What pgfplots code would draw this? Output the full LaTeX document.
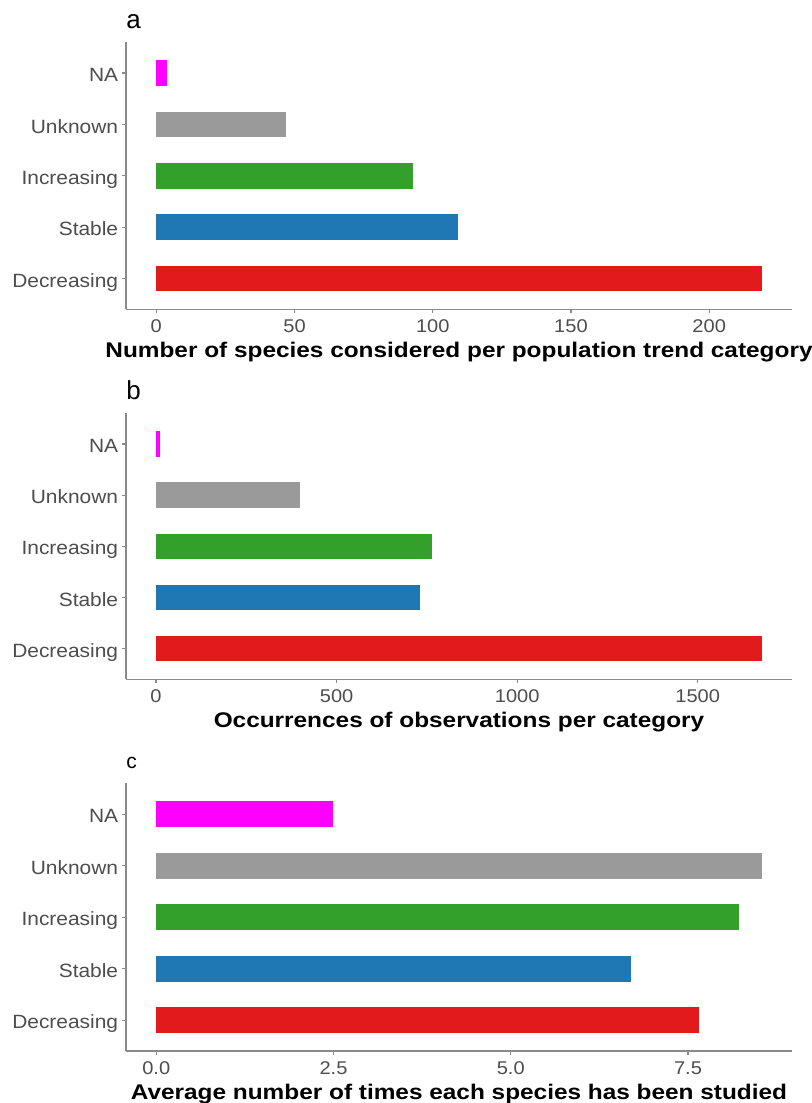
\documentclass[border=0pt]{standalone}
\usepackage{pgfplots}
\pgfplotsset{compat=1.18}
\usepackage{fontspec}
\setmainfont{Liberation Sans}
\newfontfamily\tickfont[FakeStretch=1.09]{Liberation Sans}
\newfontfamily\labfont[FakeStretch=1.15]{Liberation Sans}
\definecolor{cRed}{HTML}{E31A1C}
\definecolor{cBlue}{HTML}{1F78B4}
\definecolor{cGreen}{HTML}{33A02C}
\definecolor{cGrey}{HTML}{9A9A9A}
\definecolor{cMag}{HTML}{FF00FF}
\definecolor{axgrey}{HTML}{8A8A8A}
\definecolor{txt}{HTML}{4D4D4D}
\pgfplotsset{
  panel/.style={
    scale only axis, width=333pt, height=133.5pt,
    ymin=0.4, ymax=5.6,
    ytick={1,2,3,4,5},
    yticklabels={Decreasing,Stable,Increasing,Unknown,NA},
    axis x line*=bottom, axis y line*=left,
    axis line style={axgrey, line width=0.6pt},
    tick style={axgrey, line width=0.6pt},
    tick align=outside, major tick length=1.8pt,
    minor tick num=0,
    scaled x ticks=false,
    xticklabel style={font=\tickfont\fontsize{9.2}{11}\selectfont, text=txt},
    yticklabel style={font=\tickfont\fontsize{9.6}{11}\selectfont, text=txt, anchor=base east, yshift=-4.3pt, xshift=1.4pt},
    xlabel style={font=\labfont\fontsize{10.6}{12}\selectfont\bfseries, at={(axis description cs:0.5,0)}, anchor=base, yshift=-24pt},
    title style={at={(axis description cs:0,1)}, anchor=base west, inner sep=0pt, yshift=1pt, font=\fontsize{13}{13}\selectfont},
    /pgf/number format/assume math mode=true,
    /pgf/number format/1000 sep={},
  },
  hb/.style={xbar, bar width=0.5, bar shift=0pt, draw=none, fill=#1},
}
\begin{document}
\begin{tikzpicture}
\useasboundingbox (0,0) rectangle (406pt,551.5pt);
% panel a
\begin{axis}[panel, at={(63pt,396.85pt)}, anchor=south west, height=133.5pt,
  xmin=-10.95, xmax=229.95, xtick={0,50,100,150,200},
  title={a},
  xlabel={Number of species considered per population trend category}]
\addplot[hb=cRed] coordinates {(219,1)};
\addplot[hb=cBlue] coordinates {(109,2)};
\addplot[hb=cGreen] coordinates {(93,3)};
\addplot[hb=cGrey] coordinates {(47,4)};
\addplot[hb=cMag] coordinates {(4,5)};
\end{axis}
% panel b
\begin{axis}[panel, at={(63pt,211.85pt)}, anchor=south west, height=133pt,
  xmin=-83.1, xmax=1761, xtick={0,500,1000,1500},
  title={b},
  xlabel={Occurrences of observations per category}]
\addplot[hb=cRed] coordinates {(1677,1)};
\addplot[hb=cBlue] coordinates {(730,2)};
\addplot[hb=cGreen] coordinates {(763,3)};
\addplot[hb=cGrey] coordinates {(399,4)};
\addplot[hb=cMag] coordinates {(10,5)};
\end{axis}
% panel c
\begin{axis}[panel, at={(63pt,26pt)}, anchor=south west, height=133.85pt,
  xmin=-0.427, xmax=8.967, xtick={0,2.5,5,7.5},
  xticklabel style={/pgf/number format/.cd, fixed, fixed zerofill, precision=1},
  title={c}, title style={font=\fontsize{10.5}{11}\selectfont, yshift=0.3pt},
  xlabel={Average number of times each species has been studied}]
\addplot[hb=cRed] coordinates {(7.66,1)};
\addplot[hb=cBlue] coordinates {(6.70,2)};
\addplot[hb=cGreen] coordinates {(8.22,3)};
\addplot[hb=cGrey] coordinates {(8.54,4)};
\addplot[hb=cMag] coordinates {(2.49,5)};
\end{axis}
\end{tikzpicture}
\end{document}
